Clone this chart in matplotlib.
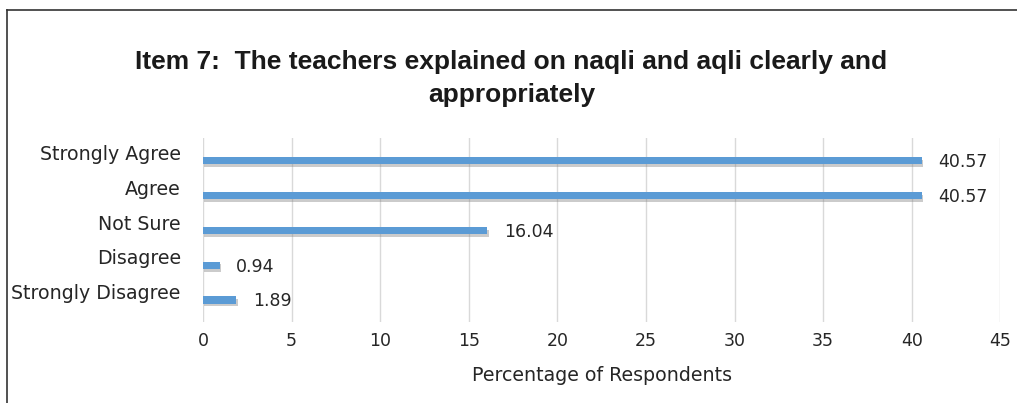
import matplotlib
matplotlib.use("Agg")
import matplotlib.pyplot as plt
from matplotlib import patheffects as pe
from matplotlib.lines import Line2D
import matplotlib.transforms as mtransforms

categories = ["Strongly Disagree", "Disagree", "Not Sure", "Agree", "Strongly Agree"]
values = [1.89, 0.94, 16.04, 40.57, 40.57]
x_ticks = [0, 5, 10, 15, 20, 25, 30, 35, 40, 45]
title = "Item 7:  The teachers explained on naqli and aqli clearly and\nappropriately"
xlabel = "Percentage of Respondents"

title_font = "Liberation Sans"
body_font = "DejaVu Sans"
fs = 12.5
fs_cat = 13.7

fig = plt.figure(figsize=(10.17, 4.03), dpi=100)
fig.patch.set_facecolor("white")
ax = fig.add_axes([0.1996, 0.201, 0.784, 0.457])

ypos = list(range(len(categories)))
bars = ax.barh(ypos, values, height=0.21, color="#5B9BD5", zorder=3)
for b in bars:
    b.set_path_effects([pe.SimplePatchShadow(offset=(1, -2), shadow_rgbFace="#7f7f7f", alpha=0.4), pe.Normal()])

for y, v in zip(ypos, values):
    ax.annotate(f"{v:.2f}", xy=(v, y), xytext=(12, -1), textcoords="offset points",
                ha="left", va="center", fontsize=fs, family=body_font, color="#262626")

ax.set_xlim(0, 45)
ax.set_ylim(-0.63, 4.66)
ax.set_xticks(x_ticks)
ax.set_xticklabels([str(t) for t in x_ticks], fontsize=fs, family=body_font, color="#262626")
ax.set_yticks(ypos)
ax.set_yticklabels(categories, fontsize=fs_cat, family=body_font, color="#262626")
ax.tick_params(axis="both", length=0)
ax.tick_params(axis="x", pad=7)
ax.tick_params(axis="y", pad=16)
offset = mtransforms.ScaledTranslation(0, 6 / 72, fig.dpi_scale_trans)
for lbl in ax.get_yticklabels():
    lbl.set_transform(lbl.get_transform() + offset)

ax.grid(axis="x", color="#d9d9d9", linewidth=1, zorder=0)
ax.grid(axis="y", visible=False)
for s in ax.spines.values():
    s.set_visible(False)

ax.set_xlabel(xlabel, fontsize=fs_cat, family=body_font, color="#262626", labelpad=12)

fig.text(0.503, 0.805, title, ha="center", va="center", fontsize=19, fontweight="bold",
         family=title_font, color="#1a1a1a", linespacing=1.45)

fig.add_artist(Line2D([7 / 1017, 1.0], [1 - 10 / 403, 1 - 10 / 403], transform=fig.transFigure, color="#333333", lw=1.2))
fig.add_artist(Line2D([7 / 1017, 7 / 1017], [0, 1 - 10 / 403], transform=fig.transFigure, color="#333333", lw=1.2))

fig.savefig("out.png", dpi=100)
